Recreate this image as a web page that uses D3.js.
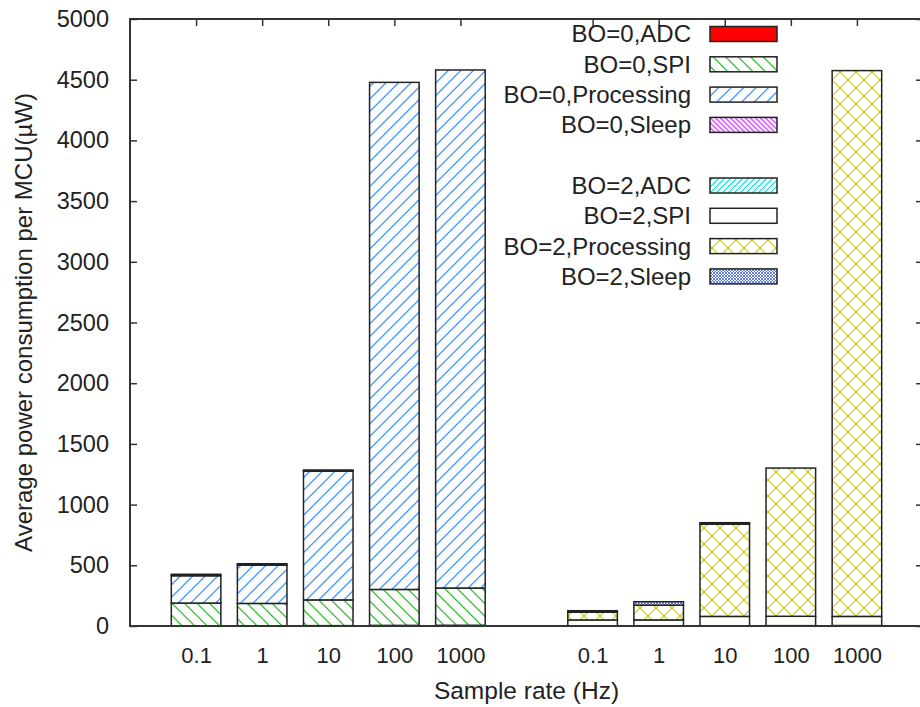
<!DOCTYPE html>
<html>
<head>
<meta charset="utf-8">
<script src="https://cdn.jsdelivr.net/npm/d3@7"></script>
<style>
  html, body { margin: 0; padding: 0; background: #fff; }
  svg { display: block; font-family: "Liberation Sans", Arial, sans-serif; }
</style>
</head>
<body>
<svg id="chart" width="920" height="707"></svg>
<script>
// ---------- data ----------
const categories = ["0.1", "1", "10", "100", "1000"];
const groups = ["BO=0", "BO=2"];
const components = ["ADC", "SPI", "Processing", "Sleep"];

const bo0_adc   = [2, 2, 3, 5, 6];
const bo0_spi   = [187, 184, 212, 296, 307];
const bo0_proc  = [225, 315, 1060, 4177, 4267];
const bo0_sleep = [12, 12, 10, 0, 0];

const bo2_adc   = [1, 1, 2, 3, 4];
const bo2_spi   = [49, 49, 77, 77, 75];
const bo2_proc  = [64, 122, 760, 1221, 4496];
const bo2_sleep = [12, 28, 12, 0, 0];

const yTicks = [0, 500, 1000, 1500, 2000, 2500, 3000, 3500, 4000, 4500, 5000];

// ---------- layout ----------
const svg = d3.select("#chart");
const L = 130, R = 923, T = 19, B = 626;

const x = d3.scaleLinear().domain([-1, 11]).range([L, R]);
const y = d3.scaleLinear().domain([0, 5000]).range([B, T]);
const barW = x(0.75) - x(0);

// ---------- patterns ----------
const defs = svg.append("defs");
function linePattern(id, color, spacing, angle, sw) {
  const p = defs.append("pattern").attr("id", id)
    .attr("patternUnits", "userSpaceOnUse")
    .attr("width", spacing).attr("height", spacing)
    .attr("patternTransform", `rotate(${angle})`);
  p.append("rect").attr("width", spacing).attr("height", spacing).attr("fill", "#fff");
  p.append("line").attr("x1", spacing / 2).attr("y1", -1).attr("x2", spacing / 2).attr("y2", spacing + 1)
    .attr("stroke", color).attr("stroke-width", sw);
}
function crossPattern(id, color, s, sw) {
  const p = defs.append("pattern").attr("id", id)
    .attr("patternUnits", "userSpaceOnUse")
    .attr("width", s).attr("height", s);
  p.append("rect").attr("width", s).attr("height", s).attr("fill", "#fff");
  p.append("line").attr("x1", 0).attr("y1", 0).attr("x2", s).attr("y2", s).attr("stroke", color).attr("stroke-width", sw);
  p.append("line").attr("x1", 0).attr("y1", s).attr("x2", s).attr("y2", 0).attr("stroke", color).attr("stroke-width", sw);
}
linePattern("p-spi0", "#10b010", 12.5 / Math.SQRT2, -45, 1.1);
linePattern("p-proc0", "#1a80ff", 12.5 / Math.SQRT2, 45, 1.1);
linePattern("p-sleep0", "#c000ff", 5 / Math.SQRT2, -45, 1);
linePattern("p-adc2", "#00dede", 6 / Math.SQRT2, 45, 1);
crossPattern("p-proc2", "#c8c818", 16, 1.2);
crossPattern("p-sleep2", "#3a5fe0", 3, 0.8);

const fills = {
  "BO=0": { ADC: "#ff0000", SPI: "url(#p-spi0)", Processing: "url(#p-proc0)", Sleep: "url(#p-sleep0)" },
  "BO=2": { ADC: "url(#p-adc2)", SPI: "#ffffff", Processing: "url(#p-proc2)", Sleep: "url(#p-sleep2)" }
};

const seriesData = {
  "BO=0": { ADC: bo0_adc, SPI: bo0_spi, Processing: bo0_proc, Sleep: bo0_sleep },
  "BO=2": { ADC: bo2_adc, SPI: bo2_spi, Processing: bo2_proc, Sleep: bo2_sleep }
};
const groupOffset = { "BO=0": 0, "BO=2": 6 };

// ---------- axes (ticks) ----------
const tickPositions = [];
groups.forEach(g => categories.forEach((c, i) => tickPositions.push(groupOffset[g] + i)));

const axisColor = "#333";

const gLeft = svg.append("g").attr("transform", `translate(${L},0)`)
  .call(d3.axisLeft(y).tickValues(yTicks).tickSizeInner(-7).tickSizeOuter(0).tickPadding(21).tickFormat(d3.format("d")));
const gRight = svg.append("g").attr("transform", `translate(${R},0)`)
  .call(d3.axisRight(y).tickValues(yTicks).tickSizeInner(-7).tickSizeOuter(0).tickFormat(""));
const gTop = svg.append("g").attr("transform", `translate(0,${T})`)
  .call(d3.axisTop(x).tickValues(tickPositions).tickSizeInner(-7).tickSizeOuter(0).tickFormat(""));
const gBottom = svg.append("g").attr("transform", `translate(0,${B})`)
  .call(d3.axisBottom(x).tickValues(tickPositions).tickSizeInner(-7).tickSizeOuter(0).tickPadding(21.5)
    .tickFormat(d => categories[d >= 6 ? d - 6 : d]));

[gLeft, gRight, gTop, gBottom].forEach(g => {
  g.select(".domain").remove();
  g.selectAll(".tick line").attr("stroke", axisColor).attr("stroke-width", 1.5);
  g.selectAll(".tick text").attr("fill", "#222")
    .attr("font-family", "'Liberation Sans', Arial, sans-serif");
});
gLeft.selectAll(".tick text").attr("font-size", 23.5);
gBottom.selectAll(".tick text").attr("font-size", 22);

// ---------- bars ----------
const barsG = svg.append("g");
groups.forEach(g => {
  const segs = [];
  categories.forEach((c, i) => {
    let acc = 0;
    components.forEach(comp => {
      const v = seriesData[g][comp][i];
      if (v > 0) segs.push({ g, comp, pos: groupOffset[g] + i, y0: acc, y1: acc + v });
      acc += v;
    });
  });
  barsG.selectAll(null).data(segs).enter().append("rect")
    .attr("x", d => x(d.pos) - barW / 2)
    .attr("width", barW)
    .attr("y", d => y(d.y1))
    .attr("height", d => y(d.y0) - y(d.y1))
    .attr("fill", d => fills[d.g][d.comp])
    .attr("stroke", "#222")
    .attr("stroke-width", 1.5);
});

// ---------- border ----------
svg.append("rect").attr("x", L).attr("y", T).attr("width", R - L).attr("height", B - T)
  .attr("fill", "none").attr("stroke", axisColor).attr("stroke-width", 2);

// ---------- legend ----------
const legendItems = [];
groups.forEach((g, gi) => components.forEach((comp, ci) => {
  legendItems.push({ label: `${g},${comp}`, fill: fills[g][comp], row: gi * 5 + ci });
}));
const rowH = 30.3, row0 = 34;
const leg = svg.append("g");
leg.selectAll("text").data(legendItems).enter().append("text")
  .attr("x", 691).attr("y", d => row0 + d.row * rowH)
  .attr("dy", "0.35em").attr("text-anchor", "end")
  .attr("font-size", 24).attr("fill", "#222")
  .text(d => d.label);
leg.selectAll("rect").data(legendItems).enter().append("rect")
  .attr("x", 710).attr("width", 67)
  .attr("y", d => row0 + d.row * rowH - 7.5).attr("height", 15)
  .attr("fill", d => d.fill).attr("stroke", "#222").attr("stroke-width", 1.5);

// ---------- axis titles ----------
svg.append("text").attr("x", (L + R) / 2).attr("y", 699)
  .attr("text-anchor", "middle").attr("font-size", 24.5).attr("fill", "#222")
  .text("Sample rate (Hz)");
svg.append("text")
  .attr("transform", `translate(24,${(T + B) / 2}) rotate(-90)`)
  .attr("text-anchor", "middle").attr("dy", "0.35em")
  .attr("font-size", 24).attr("fill", "#222")
  .text("Average power consumption per MCU(µW)");
</script>
</body>
</html>
